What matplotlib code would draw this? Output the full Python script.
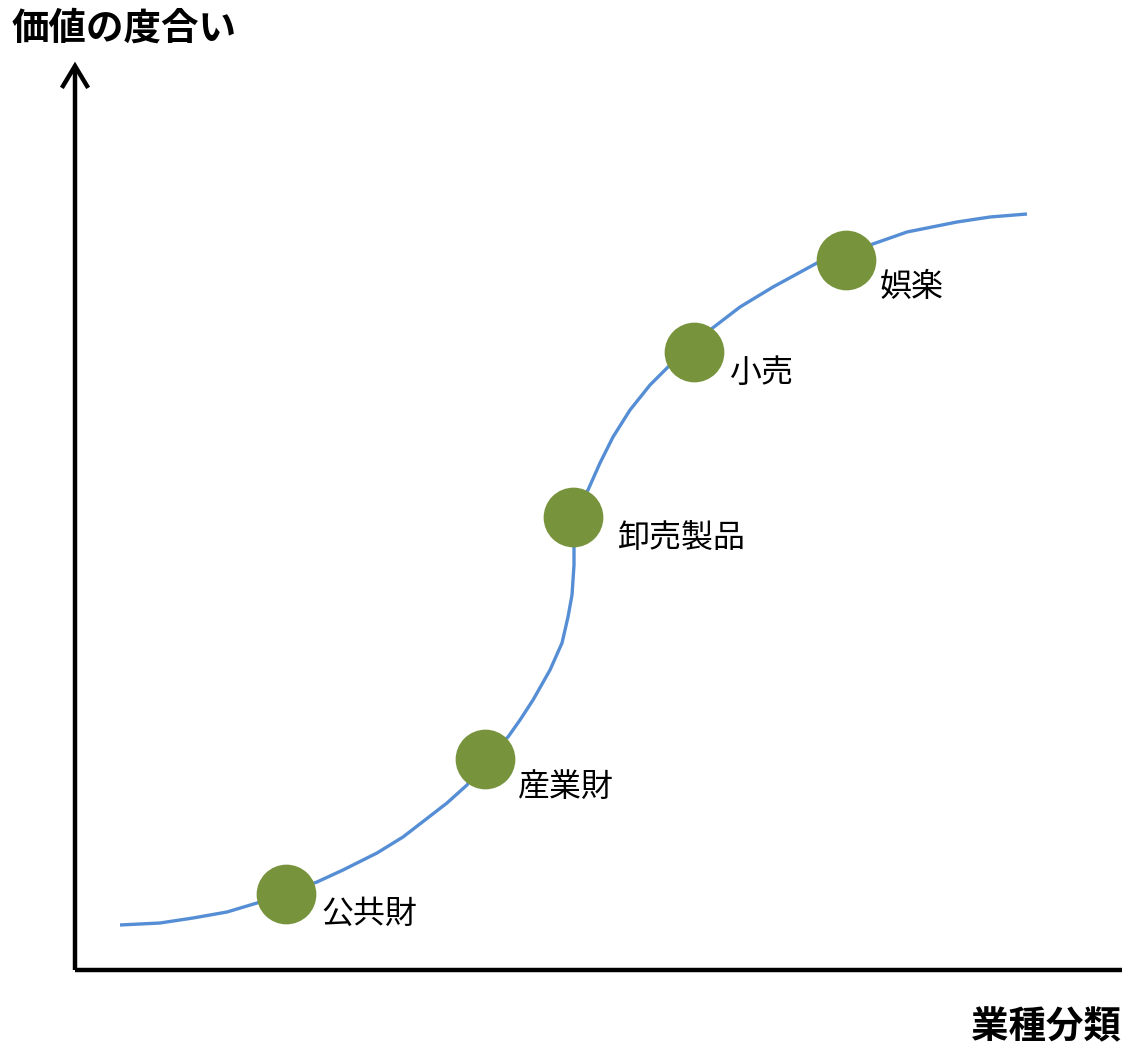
import matplotlib.pyplot as plt

plt.rcParams['font.family'] = ['Noto Sans CJK JP', 'DejaVu Sans']

# curve (x = industry position, y = value, screen units, y grows downward)
curve_x = [120, 160, 193, 227, 257, 286, 317, 343, 377, 403, 425, 447, 467, 485,
           508, 520, 533, 550, 562, 568, 572, 574, 574, 573, 580, 588, 600, 613,
           630, 650, 668, 694, 710, 740, 773, 817, 845, 870, 907, 957, 990, 1027]
curve_y = [925, 923, 918, 912, 903, 893, 882, 870, 853, 837, 820, 803, 785, 758,
           737, 720, 700, 670, 643, 617, 595, 565, 540, 517, 502, 490, 463, 437,
           410, 385, 367, 352, 330, 307, 287, 263, 256, 245, 232, 222, 217, 214]

# industries on the curve
industries = ['公共財', '産業財', '卸売製品', '小売', '娯楽']
dot_x = [286, 485, 573, 694, 846]
dot_y = [894, 759, 517, 352, 260]

y_title = '価値の度合い'
x_title = '業種分類'

fig = plt.figure(figsize=(11.22, 10.48), dpi=100)
ax = fig.add_axes([0, 0, 1, 1])
ax.set_xlim(0, 1122)
ax.set_ylim(1048, 0)
ax.axis('off')

# axes drawn by hand (schematic chart)
ax.plot([75, 1122], [970, 970], color='black', lw=3.2, solid_capstyle='butt')
ax.plot([75, 75], [970, 67], color='black', lw=3.2, solid_capstyle='butt')
ax.plot([63, 75, 87], [86, 66, 86], color='black', lw=3.2, solid_joinstyle='miter')

ax.plot(curve_x, curve_y, color='#558ED5', lw=2.4, solid_capstyle='butt',
        solid_joinstyle='round', zorder=2)
ax.plot(dot_x, dot_y, 'o', color='#77933C', ms=43, mec='none', zorder=3)

# label offsets from each dot
label_dx = [35, 33, 44, 35, 34]
label_dy = [20, 28, 21, 21, 27]
for name, x, y, dx, dy in zip(industries, dot_x, dot_y, label_dx, label_dy):
    ax.text(x + dx, y + dy, name, fontsize=23, va='center', ha='left')

ax.text(12, 28, y_title, fontsize=27, fontweight='bold', va='center', ha='left')
ax.text(1121, 1027, x_title, fontsize=27, fontweight='bold', va='center', ha='right')

plt.savefig('out.png', dpi=100)
